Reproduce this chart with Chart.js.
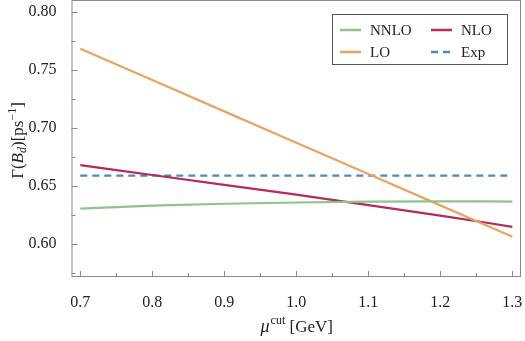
<!DOCTYPE html>
<html>
<head>
<meta charset="utf-8">
<script src="https://cdn.jsdelivr.net/npm/chart.js@4"></script>
<style>
  html, body { margin: 0; padding: 0; background: #fff; }
  #wrap { width: 525px; height: 341px; }
</style>
</head>
<body>
<div id="wrap"><canvas id="myChart" width="525" height="341"></canvas></div>
<script>
var mu = [0.7, 0.8, 0.9, 1.0, 1.1, 1.2, 1.3];
var data_nnlo = [0.6305, 0.6330, 0.6347, 0.6358, 0.6365, 0.6368, 0.6366];
var data_lo = [0.7685, 0.7415, 0.7144, 0.6874, 0.6604, 0.6333, 0.6063];
var data_nlo = [0.6680, 0.6595, 0.6510, 0.6425, 0.6335, 0.6245, 0.6148];
var data_exp = [0.659, 0.659, 0.659, 0.659, 0.659, 0.659, 0.659];
var xMajor = [0.7, 0.8, 0.9, 1.0, 1.1, 1.2, 1.3];
var xMinor = [0.75, 0.85, 0.95, 1.05, 1.15, 1.25];
var yMajor = [0.60, 0.65, 0.70, 0.75, 0.80];
var yMinor = [0.575, 0.625, 0.675, 0.725, 0.775];

var serif = "'Liberation Serif', 'DejaVu Serif', serif";

function pts(arr) {
  var out = [];
  for (let i = 0; i < mu.length; i++) out.push({x: mu[i], y: arr[i]});
  return out;
}

function noPad(s) {
  s.paddingTop = 0; s.paddingBottom = 0; s.paddingLeft = 0; s.paddingRight = 0;
}

// frame, inward ticks, axis titles and boxed legend (Mathematica look)
var framePlugin = {
  id: 'frame',
  afterDraw: function(chart) {
    var c = chart.ctx, a = chart.chartArea;
    var xs = chart.scales.x, ys = chart.scales.y;
    c.save();
    c.strokeStyle = '#8a8a8a';
    c.lineWidth = 1;
    c.strokeRect(a.left + 0.5, a.top + 0.5, a.right - a.left - 1, a.bottom - a.top - 1);
    c.beginPath();
    xMajor.forEach(function(v) { var p = Math.round(xs.getPixelForValue(v)) + 0.5; c.moveTo(p, a.bottom); c.lineTo(p, a.bottom - 6); });
    xMinor.forEach(function(v) { var p = Math.round(xs.getPixelForValue(v)) + 0.5; c.moveTo(p, a.bottom); c.lineTo(p, a.bottom - 4); });
    yMajor.forEach(function(v) { var p = Math.round(ys.getPixelForValue(v)) + 0.5; c.moveTo(a.left, p); c.lineTo(a.left + 6, p); });
    yMinor.forEach(function(v) { var p = Math.round(ys.getPixelForValue(v)) + 0.5; c.moveTo(a.left, p); c.lineTo(a.left + 4, p); });
    c.stroke();

    // x title: mu^cut [GeV]
    c.fillStyle = '#222';
    c.textBaseline = 'alphabetic';
    var cx = (a.left + a.right) / 2, by = 332;
    c.font = 'italic 18px ' + serif;
    var w1 = c.measureText('\u03bc').width;
    c.font = '12px ' + serif;
    var w2 = c.measureText('cut').width;
    c.font = '17px ' + serif;
    var w3 = c.measureText(' [GeV]').width;
    var x0 = cx - (w1 + w2 + w3) / 2;
    c.font = 'italic 18px ' + serif;
    c.textAlign = 'left';
    c.fillText('\u03bc', x0, by);
    c.font = '12px ' + serif;
    c.fillText('cut', x0 + w1 + 1, by - 8);
    c.font = '17px ' + serif;
    c.fillText(' [GeV]', x0 + w1 + w2 + 1, by);

    // y title: Gamma(B_d)[ps^-1]
    c.save();
    c.translate(18, (a.top + a.bottom) / 2 + 2);
    c.rotate(-Math.PI / 2);
    var parts = [
      {t: '\u0393(', f: '17px ', dy: 0},
      {t: 'B', f: 'italic 17px ', dy: 0},
      {t: 'd', f: 'italic 12px ', dy: 3},
      {t: ')[ps', f: '17px ', dy: 0},
      {t: '\u22121', f: '12px ', dy: -7},
      {t: ']', f: '17px ', dy: 0}
    ];
    var tw = 0;
    parts.forEach(function(p) { c.font = p.f + serif; p.w = c.measureText(p.t).width; tw += p.w; });
    var px = -tw / 2;
    parts.forEach(function(p) { c.font = p.f + serif; c.fillText(p.t, px, 5 + p.dy); px += p.w; });
    c.restore();

    // legend box, two columns
    var lx = 332.5, ly = 14.5, lw = 175, lh = 50;
    c.fillStyle = '#fff';
    c.fillRect(lx, ly, lw, lh);
    c.strokeStyle = '#555';
    c.strokeRect(lx, ly, lw, lh);
    var slots = [[340, 30], [340, 52], [431, 30], [431, 52]];
    chart.data.datasets.forEach(function(ds, i) {
      var s = slots[i];
      c.beginPath();
      c.strokeStyle = ds.borderColor;
      c.lineWidth = 2.5;
      c.setLineDash(ds.borderDash || []);
      c.moveTo(s[0], s[1]);
      c.lineTo(s[0] + 21, s[1]);
      c.stroke();
      c.setLineDash([]);
      c.fillStyle = '#222';
      c.font = '15px ' + serif;
      c.textBaseline = 'middle';
      c.fillText(ds.label, s[0] + 30, s[1] + 1);
    });
    c.restore();
  }
};

var ctx = document.getElementById('myChart').getContext('2d');
var myChart = new Chart(ctx, {
  type: 'line',
  data: {
    datasets: [
      { label: 'NNLO', data: pts(data_nnlo), borderColor: '#8fc38e', borderWidth: 2.2, cubicInterpolationMode: 'monotone' },
      { label: 'LO', data: pts(data_lo), borderColor: '#e8a462', borderWidth: 2.2 },
      { label: 'NLO', data: pts(data_nlo), borderColor: '#b62a5e', borderWidth: 2.2, cubicInterpolationMode: 'monotone' },
      { label: 'Exp', data: pts(data_exp), borderColor: '#4a89c4', borderWidth: 2.2, borderDash: [7, 5] }
    ]
  },
  options: {
    responsive: false,
    animation: false,
    layout: { autoPadding: false, padding: { top: 0, right: 4, left: 0, bottom: 0 } },
    elements: { point: { radius: 0 }, line: { fill: false } },
    plugins: {
      legend: { display: false },
      tooltip: { enabled: false }
    },
    scales: {
      x: {
        type: 'linear',
        min: 0.6878,
        max: 1.312,
        afterBuildTicks: function(s) { s.ticks = xMajor.map(function(v) { return {value: v}; }); },
        afterFit: function(s) { s.height = 64; noPad(s); },
        grid: { display: false },
        border: { display: false },
        ticks: {
          color: '#222',
          padding: 8,
          maxRotation: 0,
          font: { family: serif, size: 16 },
          callback: function(v) { return v.toFixed(1); }
        }
      },
      y: {
        type: 'linear',
        min: 0.5715,
        max: 0.8105,
        afterBuildTicks: function(s) { s.ticks = yMajor.map(function(v) { return {value: v}; }); },
        afterFit: function(s) { s.width = 71.5; noPad(s); },
        grid: { display: false },
        border: { display: false },
        ticks: {
          color: '#222',
          padding: 7,
          font: { family: serif, size: 16 },
          callback: function(v) { return v.toFixed(2); }
        }
      }
    }
  },
  plugins: [framePlugin]
});
</script>
</body>
</html>
